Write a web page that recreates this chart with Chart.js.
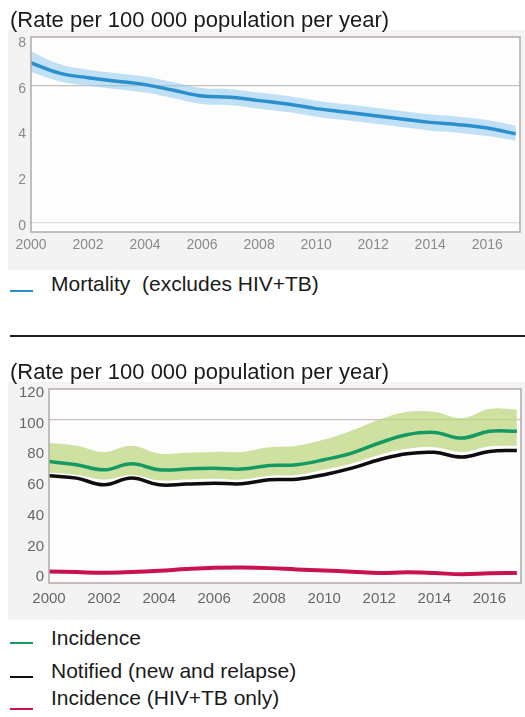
<!DOCTYPE html>
<html>
<head>
<meta charset="utf-8">
<script src="https://cdn.jsdelivr.net/npm/chart.js@4/dist/chart.umd.min.js"></script>
<style>
  html, body { margin: 0; padding: 0; background: #ffffff; }
  body { width: 525px; height: 717px; position: relative; overflow: hidden; font-family: "Liberation Sans", Arial, sans-serif; color: #1a1a1a; }
  .t { position: absolute; left: 10px; font-size: 22px; line-height: 26px; white-space: nowrap; z-index: 2; }
  .lg { position: absolute; left: 51px; font-size: 21px; line-height: 24px; white-space: nowrap; }
  .mk { position: absolute; left: 10px; width: 23px; height: 2px; }
  canvas { position: absolute; z-index: 1; }
  #sep { position: absolute; left: 10px; top: 335px; width: 515px; height: 2px; background: #1e1e1e; }
</style>
</head>
<body>
<div class="t" style="top:7px">(Rate per 100 000 population per year)</div>
<canvas id="c1" width="517" height="240" style="left:8px; top:30px; width:517px; height:240px;"></canvas>
<div class="mk" id="mk0" style="top:290px"></div>
<div class="lg" style="top:272px">Mortality&nbsp;&nbsp;(excludes HIV+TB)</div>
<div id="sep"></div>
<div class="t" style="top:359px">(Rate per 100 000 population per year)</div>
<canvas id="c2" width="517" height="238" style="left:8px; top:382px; width:517px; height:238px;"></canvas>
<div class="mk" id="mk1" style="top:642px"></div>
<div class="lg" style="top:626px">Incidence</div>
<div class="mk" id="mk2" style="top:676px"></div>
<div class="lg" style="top:659px">Notified (new and relapse)</div>
<div class="mk" id="mk3" style="top:708px"></div>
<div class="lg" style="top:686px">Incidence (HIV+TB only)</div>
<script>
// ---- data ----
const years = [2000,2001,2002,2003,2004,2005,2006,2007,2008,2009,2010,2011,2012,2013,2014,2015,2016,2017];
const xTicks = [2000,2002,2004,2006,2008,2010,2012,2014,2016];

const mortality     = [7.0,6.55,6.35,6.2,6.05,5.8,5.55,5.5,5.35,5.2,5.0,4.85,4.7,4.55,4.4,4.3,4.15,3.9];
const mortalityHigh = [7.5,6.95,6.7,6.55,6.4,6.15,5.9,5.85,5.7,5.55,5.35,5.2,5.05,4.9,4.75,4.65,4.5,4.25];
const mortalityLow  = [6.6,6.2,6.0,5.85,5.7,5.45,5.2,5.15,5.0,4.85,4.65,4.5,4.35,4.2,4.05,3.95,3.8,3.6];
const topYTicks = [0,2,4,6,8];

const incidence     = [72.7,70.6,67.3,71.2,67.3,67.8,68.4,67.8,70.1,70.6,73.9,78.2,84.8,90.2,91.7,88.0,92.4,92.4];
const incidenceHigh = [85,83,79,83,78,78.5,79,79,82,83,87,93,100,105,105,101,107,106.5];
const incidenceLow  = [65.5,64,61,64,60.5,61,61.5,61,63.5,64,67.5,71.5,77,81,82,79,82.5,83];
const notified      = [63.4,61.9,57.5,61.9,57.5,58.0,58.6,58.2,60.8,61.2,64.1,68.4,73.9,77.8,78.7,75.6,79.3,79.9];
const hivIncidence  = [1.0,0.6,0.2,0.7,1.5,2.6,3.4,3.6,3.2,2.3,1.6,0.9,0.0,0.5,0.0,-0.8,-0.2,0.0];
const bottomYTicks = [0,20,40,60,80,100,120];

// ---- styles ----
const C = {
  mort: '#2a8fcb', mortBand: 'rgba(140,200,238,0.55)',
  inc: '#169a63', incBand: 'rgba(190,215,130,0.75)',
  notif: '#0d0d0d', hiv: '#c8134f',
  frame: '#b3a9a5', tick1: '#8a8a8a', tick2: '#666666'
};
document.getElementById('mk0').style.background = C.mort;
document.getElementById('mk1').style.background = C.inc;
document.getElementById('mk2').style.background = C.notif;
document.getElementById('mk3').style.background = C.hiv;

const pts = arr => arr.map((v, i) => ({ x: years[i], y: v }));

const framePlugin = {
  id: 'frame',
  beforeDraw(chart) {
    const { ctx, chartArea: a } = chart;
    ctx.save();
    ctx.fillStyle = '#f3f3f3';
    ctx.fillRect(0, 0, chart.width, chart.height);
    ctx.fillStyle = '#fdfdfd';
    ctx.fillRect(a.left, a.top, a.right - a.left, a.bottom - a.top);
    ctx.restore();
  },
  afterDraw(chart) {
    const { ctx, chartArea: a } = chart;
    ctx.save();
    ctx.strokeStyle = C.frame;
    ctx.lineWidth = 1.5;
    ctx.strokeRect(a.left, a.top, a.right - a.left, a.bottom - a.top);
    ctx.restore();
  }
};

function lineDs(data, color, width, extra) {
  return Object.assign({ data: pts(data), borderColor: color, borderWidth: width, pointRadius: 0,
    tension: 0.4, fill: false }, extra || {});
}

function makeChart(id, datasets, o) {
  return new Chart(document.getElementById(id), {
    type: 'line',
    data: { datasets },
    plugins: [framePlugin],
    options: {
      responsive: false, animation: false,
      layout: { padding: { top: o.padTop, right: o.padRight, left: 0, bottom: 0 } },
      plugins: { legend: { display: false }, tooltip: { enabled: false } },
      scales: {
        x: {
          type: 'linear', min: 2000, max: o.xMax,
          afterBuildTicks: s => { s.ticks = xTicks.map(v => ({ value: v })); },
          afterFit: s => { s.height = o.xH; s.paddingLeft = 0; s.paddingRight = 0; },
          ticks: { font: { family: 'Liberation Sans', size: o.fs }, color: o.tickColor, padding: o.xPad, maxRotation: 0, autoSkip: false,
                   callback: v => String(v) },
          grid: { display: false, drawTicks: false },
          border: { display: false }
        },
        y: {
          min: o.yMin, max: o.yMax,
          afterBuildTicks: s => { s.ticks = o.yTicks.map(v => ({ value: v })); },
          afterFit: s => { s.width = o.yW; s.paddingTop = 0; s.paddingBottom = 0; },
          ticks: { font: { family: 'Liberation Sans', size: o.fs }, color: o.tickColor, padding: 5, labelOffset: o.yLabOff,
                   callback: v => String(v) },
          grid: { color: ctx => o.gridColor(ctx.tick.value), drawTicks: false, lineWidth: 1.2 },
          border: { display: false }
        }
      }
    }
  });
}

makeChart('c1', [
  lineDs(mortality, C.mort, 3.5),
  lineDs(mortalityHigh, 'rgba(0,0,0,0)', 0, { fill: '+1', backgroundColor: C.mortBand }),
  lineDs(mortalityLow, 'rgba(0,0,0,0)', 0)
], { padTop: 7, padRight: 5, xMax: 2017.15, xH: 38, xPad: 5, yW: 23, yMin: -0.39, yMax: 8.13, yTicks: topYTicks,
     fs: 14, tickColor: C.tick1, yLabOff: 3,
     gridColor: v => v === 6 ? '#c9bfbb' : (v === 0 ? '#e2dedc' : 'rgba(0,0,0,0)') });

makeChart('c2', [
  lineDs(incidence, C.inc, 3.5),
  lineDs(notified, C.notif, 3.5),
  lineDs(hivIncidence, C.hiv, 4),
  lineDs(incidenceHigh, 'rgba(0,0,0,0)', 0, { fill: '+1', backgroundColor: C.incBand }),
  lineDs(incidenceLow, 'rgba(0,0,0,0)', 0)
], { padTop: 7, padRight: 4, xMax: 2017.15, xH: 37, xPad: 7, yW: 41, yMin: -6.5, yMax: 120, yTicks: bottomYTicks,
     fs: 15, tickColor: C.tick2, yLabOff: 4,
     gridColor: v => v === 100 ? '#c9bfbb' : 'rgba(0,0,0,0)' });
</script>
</body>
</html>
